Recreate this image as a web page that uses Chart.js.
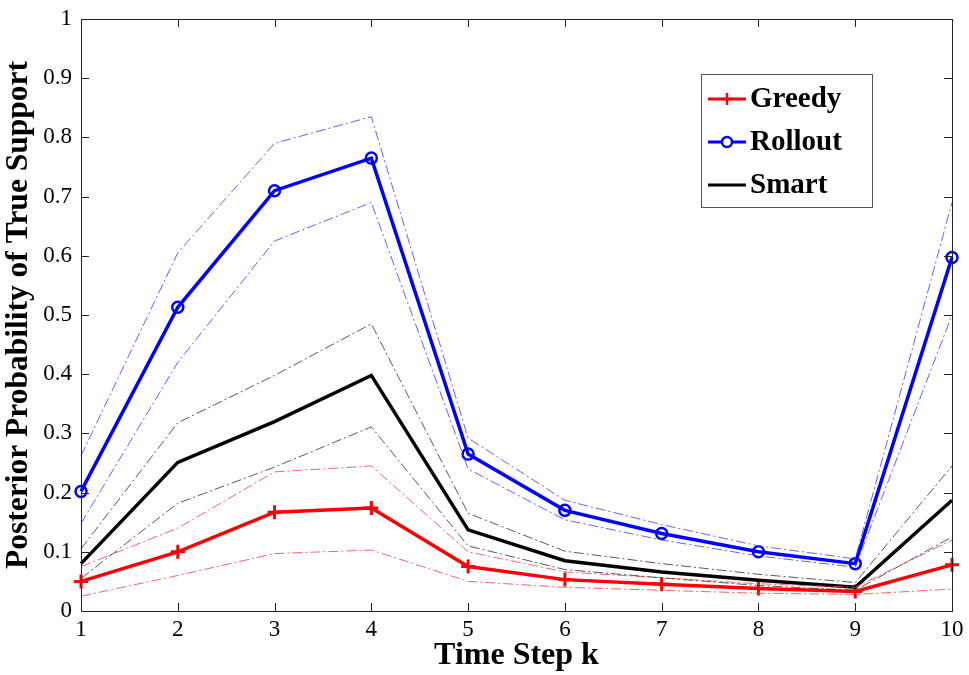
<!DOCTYPE html>
<html>
<head>
<meta charset="utf-8">
<script src="https://cdn.jsdelivr.net/npm/chart.js@4.4.1/dist/chart.umd.min.js"></script>
<style>
  html, body { margin: 0; padding: 0; background: #fff; }
  #wrap { width: 969px; height: 675px; }
</style>
</head>
<body>
<div id="wrap"><canvas id="myChart" width="969" height="675"></canvas></div>
<script>
// time steps k
const steps = [1, 2, 3, 4, 5, 6, 7, 8, 9, 10];
const yTicks = [0, 0.1, 0.2, 0.3, 0.4, 0.5, 0.6, 0.7, 0.8, 0.9, 1];
const legendOrder = ['Greedy', 'Rollout', 'Smart'];

// Greedy mean and band
const greedy      = [0.050, 0.100, 0.167, 0.174, 0.075, 0.053, 0.045, 0.038, 0.033, 0.078];
const greedyUpper = [0.075, 0.140, 0.235, 0.245, 0.100, 0.066, 0.056, 0.046, 0.040, 0.120];
const greedyLower = [0.025, 0.060, 0.097, 0.103, 0.050, 0.040, 0.035, 0.030, 0.028, 0.037];

// Rollout mean and band
const rollout      = [0.202, 0.513, 0.710, 0.765, 0.265, 0.170, 0.131, 0.100, 0.080, 0.597];
const rolloutUpper = [0.262, 0.605, 0.790, 0.835, 0.292, 0.187, 0.146, 0.110, 0.088, 0.690];
const rolloutLower = [0.148, 0.420, 0.625, 0.690, 0.240, 0.154, 0.120, 0.093, 0.074, 0.500];

// Smart mean and band
const smart      = [0.080, 0.251, 0.320, 0.398, 0.137, 0.085, 0.066, 0.052, 0.040, 0.187];
const smartUpper = [0.105, 0.318, 0.398, 0.485, 0.165, 0.101, 0.080, 0.062, 0.048, 0.245];
const smartLower = [0.055, 0.182, 0.243, 0.311, 0.110, 0.070, 0.056, 0.043, 0.035, 0.125];

const toXY = arr => steps.map((k, i) => ({ x: k, y: arr[i] }));

const band = (data, color) => ({
    label: '',
    data: toXY(data),
    borderColor: color,
    borderWidth: 1,
    borderDash: [10, 3, 2, 3],
    pointRadius: 0,
    fill: false,
    clip: false
});

const serif = '"Liberation Serif", "Times New Roman", serif';

// box + inward ticks like matlab, and the legend inside the plot
const boxPlugin = {
    id: 'box',
    afterDatasetsDraw(chart) {
        const ctx = chart.ctx;
        const a = chart.chartArea;
        const xs = chart.scales.x, ys = chart.scales.y;
        ctx.save();
        ctx.strokeStyle = '#222';
        ctx.lineWidth = 1;
        ctx.strokeRect(Math.round(a.left) + 0.5, Math.round(a.top) + 0.5,
            Math.round(a.right - a.left), Math.round(a.bottom - a.top));
        ctx.beginPath();
        steps.forEach(k => {
            const px = Math.round(xs.getPixelForValue(k)) + 0.5;
            ctx.moveTo(px, a.bottom); ctx.lineTo(px, a.bottom - 8);
            ctx.moveTo(px, a.top); ctx.lineTo(px, a.top + 8);
        });
        yTicks.forEach(v => {
            const py = Math.round(ys.getPixelForValue(v)) + 0.5;
            ctx.moveTo(a.left, py); ctx.lineTo(a.left + 8, py);
            ctx.moveTo(a.right, py); ctx.lineTo(a.right - 8, py);
        });
        ctx.stroke();
        ctx.restore();
    },
    afterDraw(chart) {
        const ctx = chart.ctx;
        const items = legendOrder.map(n => chart.data.datasets.find(d => d.label === n));
        const bx = 701, by = 74, bw = 171, bh = 133;
        ctx.save();
        ctx.fillStyle = '#fff';
        ctx.fillRect(bx, by, bw, bh);
        ctx.strokeStyle = '#555';
        ctx.lineWidth = 1;
        ctx.strokeRect(bx + 0.5, by + 0.5, bw, bh);
        ctx.font = 'bold 29px ' + serif;
        ctx.textBaseline = 'middle';
        items.forEach((d, i) => {
            const cy = by + 25 + i * 43;
            ctx.strokeStyle = d.borderColor;
            ctx.lineWidth = 3;
            ctx.setLineDash([]);
            ctx.beginPath();
            ctx.moveTo(bx + 7, cy); ctx.lineTo(bx + 45, cy);
            ctx.stroke();
            if (d.pointStyle === 'cross') {
                ctx.lineWidth = 2.5;
                ctx.beginPath();
                ctx.moveTo(bx + 26, cy - 6); ctx.lineTo(bx + 26, cy + 6);
                ctx.moveTo(bx + 20, cy); ctx.lineTo(bx + 32, cy);
                ctx.stroke();
            } else if (d.pointStyle === 'circle') {
                ctx.lineWidth = 2.5;
                ctx.fillStyle = '#fff';
                ctx.beginPath();
                ctx.arc(bx + 26, cy, 5, 0, Math.PI * 2);
                ctx.fill();
                ctx.stroke();
            }
            ctx.fillStyle = '#000';
            ctx.fillText(d.label, bx + 49, cy + 1);
        });
        ctx.restore();
    }
};

const myChart = new Chart(document.getElementById('myChart').getContext('2d'), {
    type: 'line',
    data: {
        datasets: [
            band(rolloutUpper, 'rgba(70,70,255,0.85)'),
            band(rolloutLower, 'rgba(70,70,255,0.85)'),
            band(smartUpper, 'rgba(60,60,60,0.85)'),
            band(smartLower, 'rgba(60,60,60,0.85)'),
            band(greedyUpper, 'rgba(255,70,70,0.85)'),
            band(greedyLower, 'rgba(255,70,70,0.85)'),
            {
                label: 'Smart',
                data: toXY(smart),
                borderColor: '#000',
                borderWidth: 3.5,
                pointRadius: 0,
                pointStyle: false,
                clip: false
            },
            {
                label: 'Greedy',
                data: toXY(greedy),
                borderColor: '#ff0000',
                borderWidth: 3.5,
                pointStyle: 'cross',
                pointRadius: 7,
                pointBorderWidth: 3,
                pointBorderColor: '#ff0000',
                clip: false
            },
            {
                label: 'Rollout',
                data: toXY(rollout),
                borderColor: '#0000ff',
                borderWidth: 3.5,
                pointStyle: 'circle',
                pointRadius: 5.5,
                pointBorderWidth: 2.5,
                pointBorderColor: '#0000ff',
                pointBackgroundColor: 'rgba(255,255,255,0)',
                clip: false
            }
        ]
    },
    options: {
        responsive: false,
        animation: false,
        layout: { padding: { top: 19, right: 17, left: 0, bottom: 0 } },
        plugins: { legend: { display: false }, tooltip: { enabled: false } },
        elements: { line: { tension: 0 } },
        scales: {
            x: {
                type: 'linear',
                min: 1, max: 10,
                afterBuildTicks: s => { s.ticks = steps.map(v => ({ value: v })); },
                afterFit: s => { s.height = 64; s.paddingLeft = 0; s.paddingRight = 0; },
                grid: { display: false, drawTicks: false },
                border: { display: false },
                ticks: { color: '#000', padding: 5, font: { family: serif, size: 23 } },
                title: {
                    display: true, text: 'Time Step k', color: '#000',
                    padding: { top: 0, bottom: 0 },
                    font: { family: serif, size: 32, weight: 'bold' }
                }
            },
            y: {
                min: 0, max: 1,
                afterBuildTicks: s => { s.ticks = yTicks.map(v => ({ value: v })); },
                afterFit: s => { s.width = 81; s.paddingTop = 0; s.paddingBottom = 0; },
                grid: { display: false, drawTicks: false },
                border: { display: false },
                ticks: {
                    color: '#000', padding: 9, font: { family: serif, size: 23 },
                    callback: v => String(Number(v.toFixed(1)))
                },
                title: {
                    display: true, text: 'Posterior Probability of True Support', color: '#000',
                    padding: { top: 0, bottom: 0 },
                    font: { family: serif, size: 31.5, weight: 'bold' }
                }
            }
        }
    },
    plugins: [boxPlugin]
});
</script>
</body>
</html>
